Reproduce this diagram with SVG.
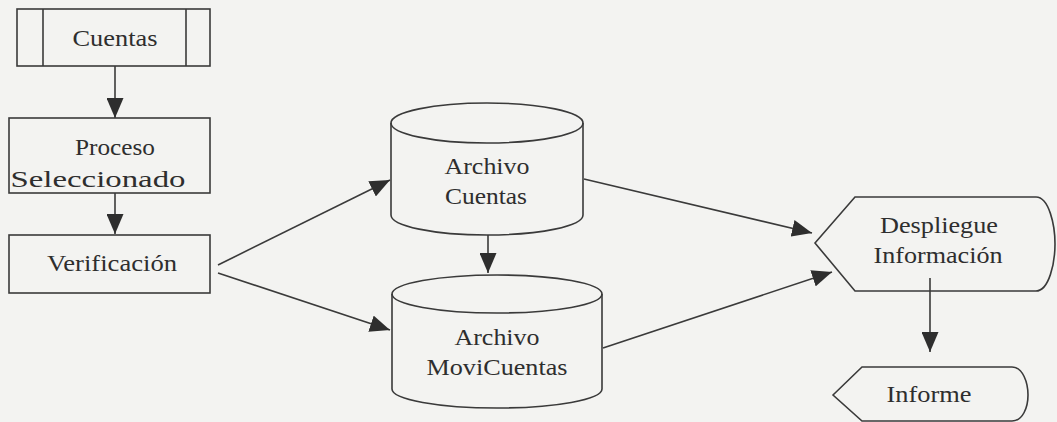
<svg xmlns="http://www.w3.org/2000/svg" width="1057" height="422" viewBox="0 0 1057 422">
<style>
.sh{fill:none;stroke:#3a3a3a;stroke-width:1.6}
.ln{fill:none;stroke:#3a3a3a;stroke-width:1.6}
text{font-family:'Liberation Serif','Times New Roman',serif;font-size:23px;fill:#2e2e2e;text-anchor:middle}
</style>
<defs>
<marker id="ah" markerUnits="userSpaceOnUse" markerWidth="20" markerHeight="17" refX="20" refY="8.5" orient="auto">
<path d="M0,0 L20,8.5 L0,17 z" fill="#2e2e2e"/>
</marker>
</defs>
<rect width="1057" height="422" fill="#f3f3f1"/>
<g id="connectors">
<line class="ln" x1="115" y1="66" x2="115" y2="118" marker-end="url(#ah)"/>
<line class="ln" x1="115" y1="193" x2="115" y2="234" marker-end="url(#ah)"/>
<line class="ln" x1="218" y1="265" x2="390" y2="180" marker-end="url(#ah)"/>
<line class="ln" x1="218" y1="273" x2="390" y2="330" marker-end="url(#ah)"/>
<line class="ln" x1="488" y1="235" x2="488" y2="273" marker-end="url(#ah)"/>
<line class="ln" x1="584" y1="179" x2="812" y2="233" marker-end="url(#ah)"/>
<line class="ln" x1="603" y1="348" x2="832" y2="272" marker-end="url(#ah)"/>
<line class="ln" x1="930" y1="278" x2="930" y2="352" marker-end="url(#ah)"/>
</g>
<g id="cuentas">
<rect class="sh" x="17" y="9" width="193" height="57"/>
<line class="sh" x1="43" y1="9" x2="43" y2="66"/>
<line class="sh" x1="186" y1="9" x2="186" y2="66"/>
<text x="115" y="46" textLength="85" lengthAdjust="spacingAndGlyphs">Cuentas</text>
</g>
<g id="proceso">
<rect class="sh" x="9" y="118" width="201" height="75"/>
<text x="115" y="155" textLength="80" lengthAdjust="spacingAndGlyphs">Proceso</text>
<text x="98" y="187" textLength="175" lengthAdjust="spacingAndGlyphs">Seleccionado</text>
</g>
<g id="verificacion">
<rect class="sh" x="9" y="235" width="201" height="58"/>
<text x="112" y="271" textLength="130" lengthAdjust="spacingAndGlyphs">Verificación</text>
</g>
<g id="archivo-cuentas">
<path class="sh" d="M391,123 A96,20 0 0 1 583,123 L583,215 A96,20 0 0 1 391,215 Z"/>
<path class="sh" d="M391,123 A96,20 0 0 0 583,123"/>
<text x="487" y="174" textLength="85" lengthAdjust="spacingAndGlyphs">Archivo</text>
<text x="486" y="204" textLength="82" lengthAdjust="spacingAndGlyphs">Cuentas</text>
</g>
<g id="archivo-movicuentas">
<path class="sh" d="M392,294 A105,19 0 0 1 602,294 L602,389 A105,19 0 0 1 392,389 Z"/>
<path class="sh" d="M392,294 A105,19 0 0 0 602,294"/>
<text x="497" y="345" textLength="85" lengthAdjust="spacingAndGlyphs">Archivo</text>
<text x="497" y="375" textLength="141" lengthAdjust="spacingAndGlyphs">MoviCuentas</text>
</g>
<g id="despliegue">
<path class="sh" d="M815,243 L855,197 L1036,197 C1049,197 1055,225 1055,244 C1055,263 1049,291 1036,291 L855,291 Z"/>
<text x="939" y="233" textLength="118" lengthAdjust="spacingAndGlyphs">Despliegue</text>
<text x="938" y="263" textLength="129" lengthAdjust="spacingAndGlyphs">Información</text>
</g>
<g id="informe">
<path class="sh" d="M833,395 L862,367 L1012,367 C1023,367 1028,383 1028,395 C1028,407 1023,421 1012,421 L862,421 Z"/>
<text x="929" y="402" textLength="85" lengthAdjust="spacingAndGlyphs">Informe</text>
</g>
</svg>
